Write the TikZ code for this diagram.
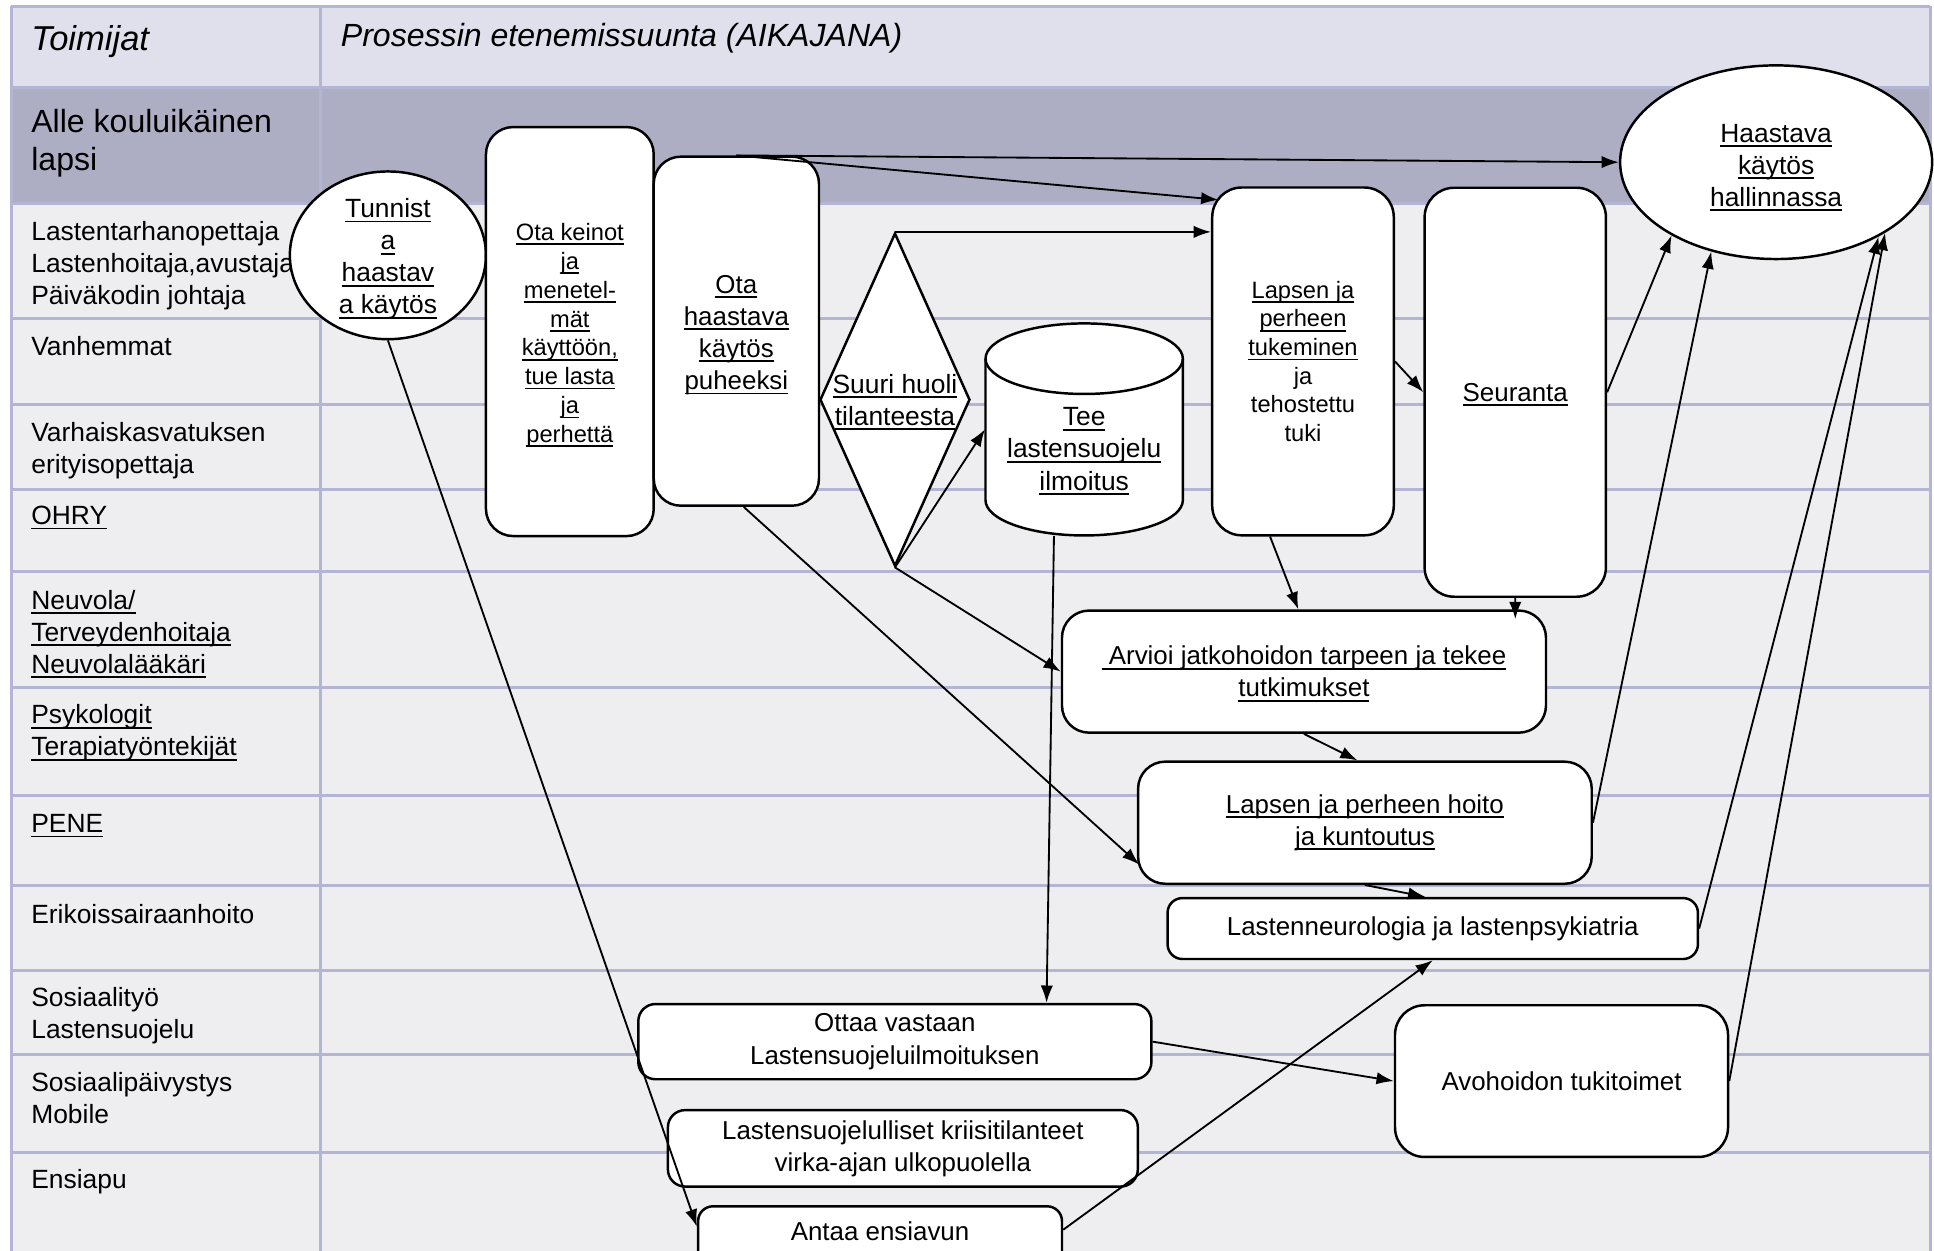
\documentclass[tikz,border=0pt]{standalone}
\usepackage{fontspec}
\setmainfont{Liberation Sans}
\usetikzlibrary{arrows.meta,shapes.geometric}
\definecolor{hdrfill}{RGB}{224,224,236}
\definecolor{darkfill}{RGB}{173,174,196}
\definecolor{rowfill}{RGB}{238,238,241}
\definecolor{gridline}{RGB}{180,181,212}
\newsavebox{\ulbox}
\newcommand{\uln}[1]{\sbox{\ulbox}{#1}\rlap{\smash{\vrule height -1.2pt depth 1.9pt width \wd\ulbox}}\usebox{\ulbox}}

\begin{document}
\begin{tikzpicture}[x=0.5pt,y=-0.5pt,
  grid/.style={draw=gridline,line width=1.2pt},
  rowtxt/.style={anchor=north west,inner sep=0pt,align=left,font=\fontsize{10.7}{13}\selectfont},
  box/.style={draw,fill=white,line width=1pt,rounded corners=11pt,inner sep=2pt,align=center,font=\fontsize{10.5}{13}\selectfont},
  shp/.style={draw,fill=white,line width=1pt,inner sep=0pt},
  txt/.style={inner sep=0pt,align=center,font=\fontsize{10.7}{13}\selectfont},
  link/.style={-{Latex[length=7pt,width=5pt]},line width=0.75pt}]

\useasboundingbox (0,0) rectangle (1568,1014);

% table
\fill[hdrfill] (9,5) rectangle (1565,71);
\fill[darkfill] (9,71) rectangle (1565,165);
\fill[rowfill] (9,165) rectangle (1565,1030);
\foreach \y in {5,71,165,258,328,397,463,557,645,718,787,855,934}
  \draw[grid] (9,\y) -- (1565,\y);
\foreach \x in {9,260,1565}
  \draw[grid] (\x,5) -- (\x,1030);

\node[anchor=base west,inner sep=0pt,font=\fontsize{14}{17}\selectfont\itshape] (toimijat) at (25,41) {Toimijat};
\node[anchor=base west,inner sep=0pt,font=\fontsize{13}{16}\selectfont\itshape] (aikajana) at (276,38) {Prosessin etenemissuunta (AIKAJANA)};
\node[rowtxt,font=\fontsize{13}{15.5}\selectfont] (lapsi) at (25,88) {Alle kouluikäinen\\lapsi};

\node[rowtxt] (rTarha) at (25,179) {Lastentarhanopettaja\\Lastenhoitaja,avustaja\\Päiväkodin johtaja};
\node[rowtxt] (rVanh) at (25,272) {Vanhemmat};
\node[rowtxt] (rVeo) at (25,342) {Varhaiskasvatuksen\\erityisopettaja};
\node[rowtxt] (rOhry) at (25,410) {\uln{OHRY}};
\node[rowtxt] (rNeuvola) at (25,478) {\uln{Neuvola/}\\\uln{Terveydenhoitaja}\\\uln{Neuvolalääkäri}};
\node[rowtxt] (rPsyk) at (25,571) {\uln{Psykologit}\\\uln{Terapiatyöntekijät}};
\node[rowtxt] (rPene) at (25,660) {\uln{PENE}};
\node[rowtxt] (rErik) at (25,733) {Erikoissairaanhoito};
\node[rowtxt] (rSos) at (25,800) {Sosiaalityö\\Lastensuojelu};
\node[rowtxt] (rPaiv) at (25,869) {Sosiaalipäivystys\\Mobile};
\node[rowtxt] (rEns) at (25,948) {Ensiapu};

% process
\node[shp,ellipse,minimum width=79.5pt,minimum height=68pt] (tunnista) at (314.5,207) {};
\node[txt] (tunnistaT) at (314.5,210) {\uln{Tunnist}\\\uln{a}\\\uln{haastav}\\\uln{a käytös}};
\node[box,minimum width=68pt,minimum height=165.8pt,font=\fontsize{9.6}{11.7}\selectfont] (keinot) at (462,268.8)
  {\rule{0pt}{10pt}\uln{Ota keinot}\\\uln{ja}\\\uln{menetel-}\\\uln{mät}\\\uln{käyttöön,}\\\uln{tue lasta}\\\uln{ja}\\\uln{perhettä}};
\node[box,minimum width=67pt,minimum height=141.5pt] (puheeksi) at (597,268.5) {\rule{0pt}{10.5pt}\uln{Ota}\\\uln{haastava}\\\uln{käytös}\\\uln{puheeksi}};
\node[shp,diamond,minimum width=60.8pt,minimum height=135pt] (huoli) at (725.6,324) {};
\node[txt] (huoliT) at (huoli) {\uln{Suuri huoli}\\\uln{tilanteesta}};

\node[inner sep=0pt,minimum width=80pt,minimum height=86pt] (ilmoitus) at (879,348) {};
\draw[shp] (799,290.8) -- (799,405.5) arc[start angle=180,end angle=0,x radius=80,y radius=28.6]
  -- (959,290.8) arc[start angle=0,end angle=-180,x radius=80,y radius=28.6] -- cycle;
\draw[line width=1pt] (799,290.8) arc[start angle=180,end angle=0,x radius=80,y radius=28.6];
\node[txt] (ilmoitusT) at (879,364) {\uln{Tee}\\\uln{lastensuojelu}\\\uln{ilmoitus}};

\node[box,rounded corners=12pt,minimum width=73.6pt,minimum height=141pt,font=\fontsize{9.6}{11.6}\selectfont] (tukeminen) at (1056.4,293)
  {\uln{Lapsen ja}\\\uln{perheen}\\\uln{tukeminen}\\ja\\tehostettu\\tuki};
\node[box,rounded corners=12pt,minimum width=73.5pt,minimum height=165.8pt] (seuranta) at (1228.5,318) {\uln{Seuranta}};
\node[shp,ellipse,minimum width=126.5pt,minimum height=78.5pt] (haastava) at (1440,131.5) {};
\node[txt] (haastavaT) at (1440,134) {\uln{Haastava}\\\uln{käytös}\\\uln{hallinnassa}};

\node[box,minimum width=196.2pt,minimum height=49.5pt] (arvioi) at (1057.2,544.5) {\uln{\ Arvioi jatkohoidon tarpeen ja tekee}\\\uln{tutkimukset}};
\node[box,minimum width=183.9pt,minimum height=49.5pt] (hoito) at (1106.6,667) {\uln{Lapsen ja perheen hoito}\\\uln{ja kuntoutus}};
\node[box,rounded corners=6pt,minimum width=215pt,minimum height=24.7pt] (neuro) at (1161.6,752.8) {Lastenneurologia ja lastenpsykiatria};
\node[box,rounded corners=7pt,minimum width=208pt,minimum height=30.5pt] (ottaa) at (725.5,844.5) {Ottaa vastaan\\Lastensuojeluilmoituksen};
\node[box,rounded corners=7pt,minimum width=190.5pt,minimum height=31pt] (kriisi) at (732,931) {Lastensuojelulliset kriisitilanteet\\virka-ajan ulkopuolella};
\node[box,rounded corners=6pt,anchor=north,minimum width=147.5pt,inner ysep=3pt,text height=10.9pt,text depth=25pt] (ensiapu) at (713.5,977) {Antaa ensiavun};
\node[box,rounded corners=12pt,minimum width=135pt,minimum height=61.5pt] (avohoito) at (1266,876.5) {Avohoidon tukitoimet};

% connectors
\draw[link] (puheeksi.north) -- (haastava.west);
\draw[link] (puheeksi.north) -- ([shift={(6,11)}]tukeminen.north west);
\draw[link] (huoli.north) -- (huoli.north -| tukeminen.west);
\draw[link] (huoli.south) -- (ilmoitus.west);
\draw[link] (huoli.south) -- (arvioi.west);
\draw[link] ([shift={(-24.5,0)}]ilmoitus.south) -- ([shift={(123,0)}]ottaa.north);
\draw[link] (tukeminen.east) -- (seuranta.west);
\draw[link] ([shift={(-26.7,0)}]tukeminen.south) -- ([shift={(-4.6,0)}]arvioi.north);
\draw[link] (seuranta.south) -- ([shift={(171.3,8)}]arvioi.north);
\draw[link] (seuranta.east) -- (haastava.215);
\draw[link] (hoito.east) -- (haastava.234);
\draw[link] (neuro.east) -- (haastava.324);
\draw[link] (avohoito.east) -- (haastava.327);
\draw[link] ([shift={(6,0)}]puheeksi.south) -- ([shift={(2,34)}]hoito.west);
\draw[link] (tunnista.south) -- ([shift={(0,17.5)}]ensiapu.north west);
\draw[link] (arvioi.south) -- ([shift={(-6,0)}]hoito.north);
\draw[link] (hoito.south) -- ([shift={(-6,0)}]neuro.north);
\draw[link] (ottaa.east) -- (avohoito.west);
\draw[link] ([shift={(0,20)}]ensiapu.north east) -- (neuro.south);
\end{tikzpicture}
\end{document}
